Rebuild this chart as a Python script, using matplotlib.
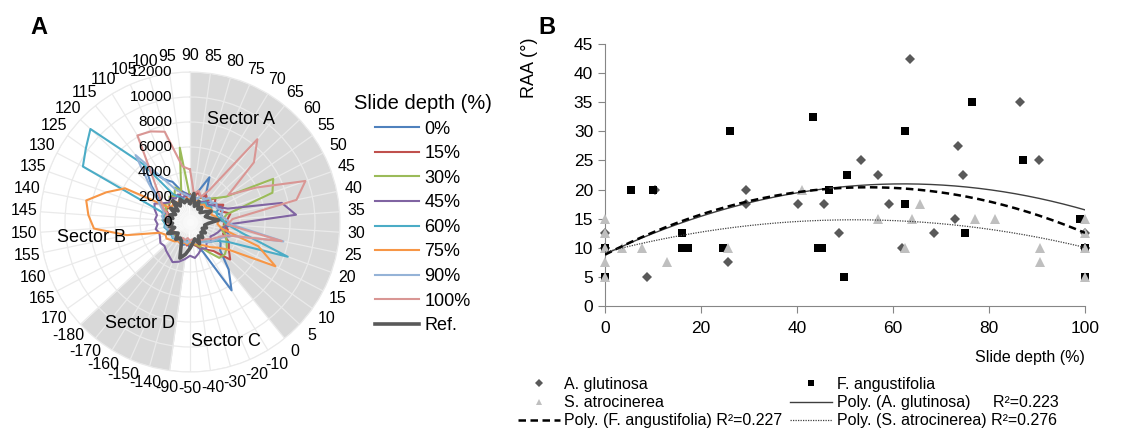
import numpy as np
import matplotlib.pyplot as plt
from matplotlib.lines import Line2D

plt.rcParams['font.family'] = ['Liberation Sans', 'DejaVu Sans']

# ---------------- A: radar de orientaciones ----------------
etiquetas_ang = ['90', '85', '80', '75', '70', '65', '60', '55', '50', '45',
                 '40', '35', '30', '25', '20', '15', '10', '5', '0', '-10',
                 '-20', '-30', '-40', '-50', '-90', '-140', '-150', '-160', '-170', '-180',
                 '170', '165', '160', '155', '150', '145', '140', '135', '130', '125',
                 '120', '115', '110', '105', '100', '95']

p0 = [2200, 2000, 2600, 3900, 2400, 2000, 2300, 2500, 2800, 2200,
      2600, 2400, 3200, 2800, 3400, 2600, 3000, 3300, 4900, 6400,
      2600, 2000, 1800, 2100, 1700, 1900, 1600, 1800, 1700, 1500,
      1600, 1800, 1500, 1700, 1600, 1800, 1700, 2100, 2400, 3000,
      4200, 5600, 4000, 3500, 2600, 2300]
p15 = [2200, 1900, 2500, 2100, 2500, 2200, 2800, 2400, 3000, 2600,
       3300, 3000, 2700, 3100, 2800, 3500, 3800, 4400, 3000, 2600,
       2300, 2000, 1800, 1700, 1900, 1600, 1800, 1500, 1700, 1600,
       1800, 1500, 1700, 1600, 1900, 1700, 2000, 1800, 2200, 2000,
       2300, 2100, 2600, 2200, 2500, 2000]
p30 = [2000, 2300, 1900, 2200, 2100, 2400, 2800, 3500, 7500, 7000,
       3000, 2600, 2900, 2500, 3000, 3300, 3600, 3800, 3700, 2800,
       2200, 1900, 1700, 1800, 1600, 1700, 1500, 1600, 1500, 1700,
       1600, 1800, 1700, 2000, 1800, 2200, 2000, 2300, 2100, 2500,
       2200, 2600, 2400, 3000, 2600, 6000]
p45 = [2100, 1800, 2000, 1700, 1900, 2100, 2000, 2300, 2600, 3200,
       7500, 8500, 3000, 2600, 2400, 2200, 2000, 2300, 2100, 2500,
       2300, 2600, 2900, 2700, 3000, 3300, 3500, 3200, 3000, 2800,
       2900, 2700, 2600, 2800, 2600, 2800, 2700, 3000, 3200, 2600,
       2300, 2500, 2200, 2400, 2000, 2300]
p60 = [1700, 1900, 1600, 1800, 1700, 2000, 1800, 2100, 1900, 2300,
       2200, 2600, 3000, 4200, 8300, 3500, 2600, 2300, 2000, 1800,
       1900, 1700, 1600, 1800, 1500, 1700, 1600, 1800, 1700, 1900,
       1800, 2000, 1900, 2100, 2000, 2200, 2100, 2400, 9650, 10200,
       10900, 6000, 2600, 2200, 1900, 1800]
p75 = [1800, 1600, 1900, 1700, 1600, 1800, 1700, 1900, 2000, 1800,
       2100, 2300, 2200, 2600, 5800, 7700, 3900, 3000, 2600, 2200,
       2000, 1800, 1700, 1600, 1800, 1700, 1900, 1800, 2000, 2100,
       2300, 2200, 2560, 5170, 7700, 8150, 8480, 7100, 5860, 2000,
       1900, 2100, 1800, 2000, 1700, 1900]
p90 = [2000, 2200, 1900, 2300, 2100, 2500, 2300, 2600, 2400, 2800,
       2500, 2900, 3400, 7630, 3200, 2800, 2500, 2300, 2100, 1900,
       1800, 1700, 1600, 1500, 1700, 1600, 1800, 1700, 1600, 1800,
       1700, 1900, 1800, 2000, 1900, 2100, 2300, 2200, 2600, 3200,
       4500, 6900, 4000, 2800, 2400, 2200]
p100 = [4200, 2300, 2600, 2200, 3000, 8540, 7000, 3750, 6000, 9800,
        8700, 3400, 3000, 7500, 3200, 2600, 2300, 2000, 1800, 1700,
        1500, 1600, 1400, 1500, 1300, 1500, 1400, 1600, 1500, 1400,
        1600, 1500, 1700, 1600, 1800, 1700, 2000, 1900, 2400, 2800,
        3500, 4800, 8100, 7900, 7500, 4500]
ref = [1500, 2300, 1300, 1800, 1200, 1500, 1100, 1400, 1900, 1300,
       1600, 2300, 1500, 1200, 1400, 1100, 1500, 1200, 1600, 1300,
       1900, 1400, 1700, 2100, 2600, 3000, 1700, 1500, 1800, 1300,
       1500, 2000, 1300, 1700, 1400, 2000, 1400, 1700, 1300, 1900,
       1300, 2200, 1500, 2000, 1600, 1800]

nombres_prof = ['0%', '15%', '30%', '45%', '60%', '75%', '90%', '100%', 'Ref.']
series_radar = [p0, p15, p30, p45, p60, p75, p90, p100, ref]
colores_radar = ['#4F81BD', '#C0504D', '#9BBB59', '#8064A2', '#4BACC6',
                 '#F79646', '#95B3D7', '#D99694', '#595959']

anillos = [0, 2000, 4000, 6000, 8000, 10000, 12000]
sectores = [('Sector A', 0, 18), ('Sector D', 24, 29)]

# ---------------- B: RAA frente a profundidad ----------------
# varios puntos quedan solapados en los extremos (0 y 100 %)
ag_x = [0, 0, 0, 8.7, 10.5, 25.7, 29.3, 29.3, 40.3, 45.7, 48.8, 53.3, 56.8,
        59.2, 61.8, 63.5, 68.5, 73, 73.5, 74.6, 86.5, 90.4, 100, 100, 100]
ag_y = [12.5, 10, 10, 5, 20, 7.5, 20, 17.5, 17.5, 17.5, 12.5, 25, 22.5,
        17.5, 10, 42.5, 12.5, 15, 27.5, 22.5, 35, 25, 12.5, 10, 10]
fa_x = [0, 0, 0, 0, 5.5, 10, 16, 16, 17.3, 24.6, 26, 43.4, 44.3, 45.3, 46.7,
        49.8, 50.5, 62.5, 62.5, 75, 76.4, 87, 99, 100, 100, 100]
fa_y = [5, 5, 10, 10, 20, 20, 12.5, 10, 10, 10, 30, 32.5, 10, 10, 20,
        5, 22.5, 30, 17.5, 12.5, 35, 25, 15, 5, 10, 10]
sa_x = [0, 0, 0, 0, 0, 3.6, 7.8, 12.85, 25.6, 41, 56.8, 62.5, 63.9, 65.7,
        77.1, 81.25, 90.6, 90.6, 100, 100, 100, 100]
sa_y = [15, 12.5, 10, 7.5, 5, 10, 10, 7.5, 10, 20, 15, 10, 15, 17.5,
        15, 15, 10, 7.5, 15, 12.5, 10, 5]
r2_txt = ['0.223', '0.227', '0.276']

fig = plt.figure(figsize=(11.48, 4.34), dpi=100)
W, H = 1148, 434

# --- panel A
ax = fig.add_axes([40 / W, 62 / H, 300 / W, 300 / H], projection='polar')
ax.set_theta_zero_location('N')
ax.set_theta_direction(-1)
n = len(etiquetas_ang)
theta = np.arange(n) * 2 * np.pi / n
ax.set_xticks(theta)
ax.set_xticklabels(etiquetas_ang, fontsize=11.5)
ax.tick_params(axis='x', pad=1.5)
ax.set_ylim(0, anillos[-1])
ax.set_yticks(anillos)
ax.set_yticklabels([])
ax.set_axisbelow(True)
ax.grid(color='#EAEAEA', lw=0.9)
ax.spines['polar'].set_color('#EAEAEA')

for nombre, i0, i1 in sectores:
    t = np.linspace(theta[i0], theta[i1], 80)
    ax.fill_between(t, 0, anillos[-1], color='#D9D9D9', lw=0, zorder=0.2)

# mancha blanca del centro
t_full = np.linspace(0, 2 * np.pi, 200)
for r in (1300, 950, 600, 300):
    ax.fill_between(t_full, 0, r, color='white', alpha=0.35, lw=0, zorder=1)

for v in anillos:
    ax.annotate(str(v), xy=(0, v), xytext=(-13, 0), textcoords='offset points',
                ha='right', va='center', fontsize=11, annotation_clip=False, zorder=10)

tt = np.append(theta, theta[0])
for vals, nom, col in zip(series_radar, nombres_prof, colores_radar):
    lw = 2.6 if nom == 'Ref.' else 1.5
    ax.plot(tt, np.append(vals, vals[0]), color=col, lw=lw, label=nom, zorder=3)

ax.text(0.67, 0.843, 'Sector A', transform=ax.transAxes, ha='center', va='center', fontsize=13)
ax.text(0.173, 0.447, 'Sector B', transform=ax.transAxes, ha='center', va='center', fontsize=13)
ax.text(0.62, 0.103, 'Sector C', transform=ax.transAxes, ha='center', va='center', fontsize=13)
ax.text(0.333, 0.163, 'Sector D', transform=ax.transAxes, ha='center', va='center', fontsize=13)

ax.legend(loc='upper left', bbox_to_anchor=(354 / W, 1 - 94 / H), bbox_transform=fig.transFigure,
          title='Slide depth (%)', title_fontsize=14.5, fontsize=13, frameon=False,
          handlelength=2.4, handletextpad=0.3, labelspacing=0.42, borderpad=0, borderaxespad=0)

fig.text(30 / W, 1 - 28 / H, 'A', fontsize=17, fontweight='bold', ha='left', va='center')
fig.text(538 / W, 1 - 28 / H, 'B', fontsize=17, fontweight='bold', ha='left', va='center')

# --- panel B
bx = fig.add_axes([605 / W, 128 / H, 480 / W, 262 / H])
gris = '#868686'
bx.plot(ag_x, ag_y, 'D', color='#595959', ms=5.3, mew=0, clip_on=False, zorder=3)
bx.plot(fa_x, fa_y, 's', color='black', ms=5.2, mew=0, clip_on=False, zorder=4)
bx.plot(sa_x, sa_y, '^', color='#BFBFBF', ms=7.2, mew=0, clip_on=False, zorder=5)

xs = np.linspace(0, 100, 200)
c_ag = np.polyfit(ag_x, ag_y, 2)
c_fa = np.polyfit(fa_x, fa_y, 2)
c_sa = np.polyfit(sa_x, sa_y, 2)
bx.plot(xs, np.polyval(c_ag, xs), color='#3F3F3F', lw=1.0, zorder=6)
bx.plot(xs, np.polyval(c_fa, xs), color='black', lw=1.8, ls=(0, (3, 1.8)), zorder=6)
bx.plot(xs, np.polyval(c_sa, xs), color='#3F3F3F', lw=0.9, ls=(0, (1, 1)), zorder=6)

bx.set_xlim(0, 100)
bx.set_ylim(0, 45)
bx.set_xticks(range(0, 101, 20))
bx.set_yticks(range(0, 46, 5))
for s in ('top', 'right'):
    bx.spines[s].set_visible(False)
for s in ('left', 'bottom'):
    bx.spines[s].set_color(gris)
bx.tick_params(direction='out', length=5, color=gris, labelsize=12.5)
bx.tick_params(axis='x', pad=6)
bx.set_xlabel('Slide depth (%)', fontsize=11.5, loc='right', labelpad=10)
bx.set_ylabel('RAA (°)', fontsize=13)
bx.yaxis.set_label_coords(-0.14, 0.91)

h_ag = Line2D([], [], ls='none', marker='D', color='#595959', ms=4, mew=0)
h_fa = Line2D([], [], ls='none', marker='s', color='black', ms=4, mew=0)
h_sa = Line2D([], [], ls='none', marker='^', color='#BFBFBF', ms=5, mew=0)
h_pag = Line2D([], [], color='#3F3F3F', lw=1.0)
h_pfa = Line2D([], [], color='black', lw=1.8, ls=(0, (3, 1.8)))
h_psa = Line2D([], [], color='#3F3F3F', lw=0.9, ls=(0, (1, 1)))
fig.legend([h_ag, h_sa, h_pfa, h_fa, h_pag, h_psa],
           ['A. glutinosa', 'S. atrocinerea', 'Poly. (F. angustifolia) R²=' + r2_txt[1],
            'F. angustifolia', 'Poly. (A. glutinosa)     R²=' + r2_txt[0],
            'Poly. (S. atrocinerea) R²=' + r2_txt[2]],
           ncol=2, loc='upper left', bbox_to_anchor=(518 / W, 1 - 377 / H),
           frameon=False, fontsize=11.5, handlelength=2.6, handletextpad=0.3,
           columnspacing=0.5, labelspacing=0.2, borderpad=0, borderaxespad=0)

fig.savefig('out.png', dpi=100)
